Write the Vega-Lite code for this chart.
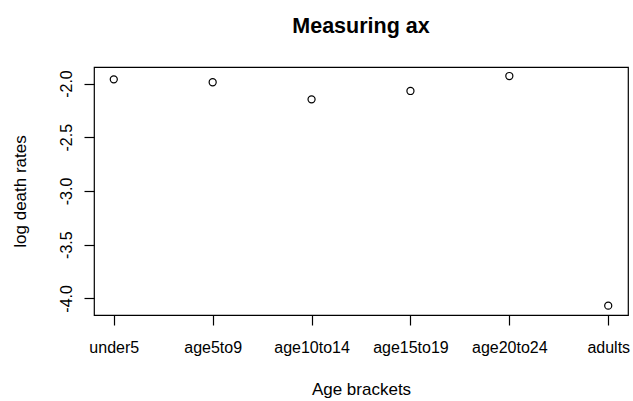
{
  "$schema": "https://vega.github.io/schema/vega-lite/v6.json",
  "autosize": {"type": "none"},
  "padding": {"left": 94, "top": 67, "right": 5, "bottom": 86},
  "width": 534,
  "height": 248,
  "background": "white",
  "title": {
    "text": "Measuring ax",
    "font": "Liberation Sans",
    "fontSize": 21.5,
    "fontWeight": "bold",
    "color": "black",
    "anchor": "middle",
    "baseline": "alphabetic",
    "offset": 13
  },
  "config": {
    "view": {"stroke": "black", "strokeWidth": 1.2},
    "axis": {
      "domain": false,
      "grid": false,
      "ticks": true,
      "tickColor": "black",
      "tickWidth": 1.2,
      "tickSize": 10,
      "labelFont": "Liberation Sans",
      "labelFontSize": 16,
      "labelColor": "black",
      "titleFont": "Liberation Sans",
      "titleFontSize": 17,
      "titleFontWeight": "normal",
      "titleColor": "black"
    }
  },
  "data": {
    "values": [
      {"age": "under5", "rate": -1.961},
      {"age": "age5to9", "rate": -1.988},
      {"age": "age10to14", "rate": -2.147},
      {"age": "age15to19", "rate": -2.069},
      {"age": "age20to24", "rate": -1.93},
      {"age": "adults", "rate": -4.068}
    ]
  },
  "mark": {"type": "point", "shape": "circle", "filled": false, "stroke": "black", "strokeWidth": 1.2, "size": 50, "opacity": 1},
  "encoding": {
    "x": {
      "field": "age",
      "type": "ordinal",
      "sort": null,
      "scale": {"type": "point", "padding": 0.2},
      "axis": {
        "title": "Age brackets",
        "labelAngle": 0,
        "labelPadding": 14,
        "labelBaseline": "top",
        "titleY": 79,
        "titleBaseline": "alphabetic"
      }
    },
    "y": {
      "field": "rate",
      "type": "quantitative",
      "scale": {"domain": [-4.155, -1.846], "nice": false, "zero": false},
      "axis": {
        "title": "log death rates",
        "values": [-4, -3.5, -3, -2.5, -2],
        "labelExpr": "replace(format(datum.value, '.1f'), '\u2212', '-')",
        "labelAngle": -90,
        "labelAlign": "center",
        "labelBaseline": "alphabetic",
        "labelPadding": 13,
        "titleX": -69,
        "titleBaseline": "alphabetic",
        "titleAngle": -90
      }
    }
  }
}
